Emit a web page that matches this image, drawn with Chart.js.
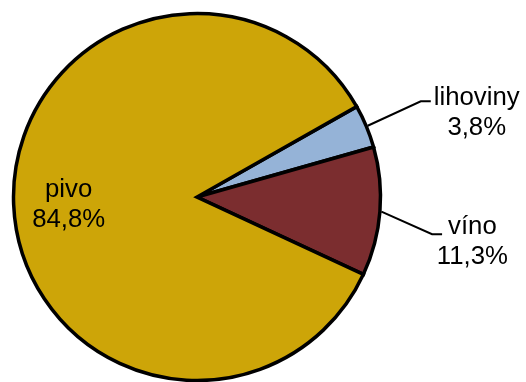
<!DOCTYPE html>
<html>
<head>
<meta charset="utf-8">
<script src="https://cdn.jsdelivr.net/npm/chart.js@4/dist/chart.umd.min.js"></script>
<style>
  html, body { margin: 0; padding: 0; background: #fff; }
  #wrap { width: 526px; height: 382px; position: relative; }
</style>
</head>
<body>
<div id="wrap"><canvas id="chart"></canvas></div>
<script>
// data
const categories = ['lihoviny', 'víno', 'pivo'];
const shares = [3.8, 11.3, 84.8];
const sliceColors = ['#95B3D7', '#7B2D2F', '#CDA508'];

const formatShare = v => v.toFixed(1).replace('.', ',') + '%';

// draws the category + percent labels, with leader lines for the small slices
const sliceLabels = {
    id: 'sliceLabels',
    afterDatasetsDraw(chart, args, opts) {
        const ctx = chart.ctx;
        const meta = chart.getDatasetMeta(0);
        const sx = opts.stretch;
        const text = (t, x, y) => {
            ctx.save();
            ctx.translate(x, y);
            ctx.scale(sx, 1);
            ctx.fillText(t, 0, 0);
            ctx.restore();
        };
        ctx.save();
        ctx.font = opts.font;
        ctx.fillStyle = '#000';
        ctx.strokeStyle = '#000';
        ctx.lineWidth = 2;
        ctx.textAlign = 'center';
        ctx.textBaseline = 'alphabetic';
        meta.data.forEach((arc, i) => {
            const p = arc.getProps(['x', 'y', 'startAngle', 'endAngle', 'outerRadius'], true);
            const lines = [categories[i], formatShare(shares[i])];
            const mid = (p.startAngle + p.endAngle) / 2;
            const place = opts.placement[i];
            if (place.inside) {
                const cx = p.x + Math.cos(mid) * p.outerRadius * place.at;
                const cy = p.y + Math.sin(mid) * p.outerRadius * place.at;
                lines.forEach((t, k) => text(t, cx, cy + place.dy + k * opts.lineHeight));
            } else {
                const ex = p.x + Math.cos(mid) * (p.outerRadius + 1.5);
                const ey = p.y + Math.sin(mid) * (p.outerRadius + 1.5);
                const bx = ex + place.dx;
                const by = ey + place.dy;
                const w = ctx.measureText(lines[0]).width * sx;
                const endX = bx - w / 2 - place.gap;
                const ly = by - place.lift;
                ctx.beginPath();
                ctx.moveTo(ex, ey);
                ctx.lineTo(endX - 10, ly);
                ctx.lineTo(endX, ly);
                ctx.stroke();
                lines.forEach((t, k) => text(t, bx, by + k * opts.lineHeight));
            }
        });
        ctx.restore();
    }
};

new Chart(document.getElementById('chart'), {
    type: 'pie',
    data: {
        labels: categories,
        datasets: [{
            data: shares,
            backgroundColor: sliceColors,
            borderColor: '#000',
            borderWidth: 3.5,
            borderJoinStyle: 'miter'
        }]
    },
    options: {
        responsive: true,
        maintainAspectRatio: false,
        animation: false,
        rotation: 60.5,
        radius: 183.5,
        layout: { padding: { left: 12, right: 144, top: 12, bottom: 0 } },
        plugins: {
            legend: { display: false },
            tooltip: { enabled: false },
            sliceLabels: {
                font: '25px "Liberation Sans", Arial, sans-serif',
                stretch: 1.03,
                lineHeight: 30,
                placement: [
                    { dx: 109, dy: -21, gap: 3, lift: 3.5 },
                    { dx: 91, dy: 22.5, gap: 6, lift: 0 },
                    { inside: true, at: 0.7, dy: -5 }
                ]
            }
        }
    },
    plugins: [sliceLabels]
});
</script>
</body>
</html>
